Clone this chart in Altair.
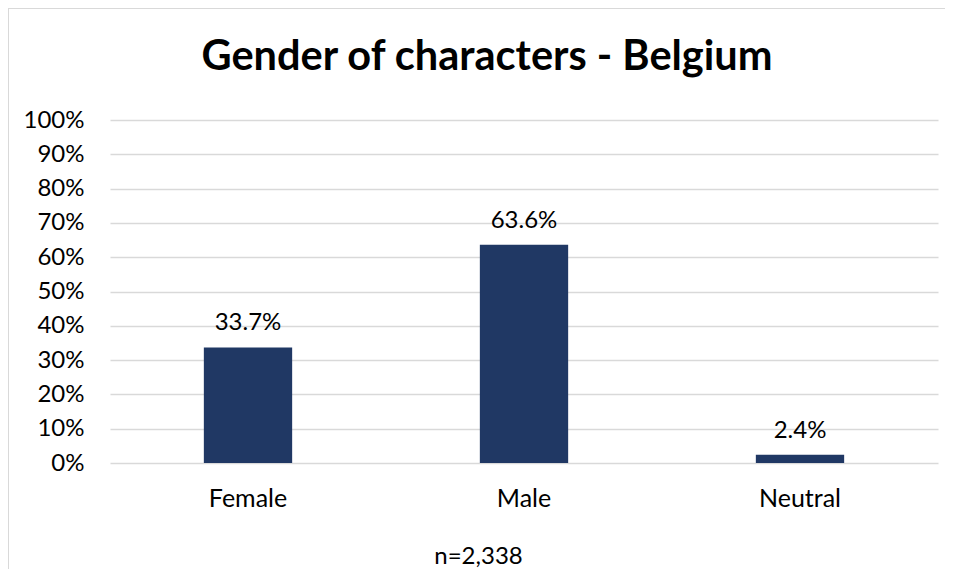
import altair as alt
import pandas as pd

categories = ["Female", "Male", "Neutral"]
shares = [0.337, 0.636, 0.024]
value_labels = ["33.7%", "63.6%", "2.4%"]
y_ticks = [0, 0.1, 0.2, 0.3, 0.4, 0.5, 0.6, 0.7, 0.8, 0.9, 1.0]
title_text = "Gender of characters - Belgium"
note_text = "n=2,338"

FONT = "Lato"
BAR = "#203864"
GRID = "#d9d9d9"
FS = 24

df = pd.DataFrame({"cat": categories, "share": shares, "lab": value_labels})

x_enc = alt.X(
    "cat:N",
    sort=categories,
    scale=alt.Scale(paddingInner=0.68, paddingOuter=0.34),
    axis=alt.Axis(
        title=note_text,
        labelFontSize=25,
        labelFont=FONT,
        labelColor="#000000",
        labelAngle=0,
        labelBaseline="alphabetic",
        labelPadding=43,
        ticks=False,
        domain=False,
        grid=False,
        titleFont=FONT,
        titleFontSize=FS,
        titleFontWeight="normal",
        titleColor="#000000",
        titleBaseline="alphabetic",
        titleX=368,
        titleY=100,
        titleAnchor="middle",
    ),
)
y_enc = alt.Y(
    "share:Q",
    scale=alt.Scale(domain=[0, 1], nice=False),
    axis=alt.Axis(
        title=None,
        format=".0%",
        values=y_ticks,
        tickCount=20,
        labelOverlap=False,
        labelFontSize=FS,
        labelFont=FONT,
        labelColor="#000000",
        labelPadding=26,
        ticks=False,
        domain=False,
        gridColor=GRID,
        gridWidth=1.5,
    ),
)

base = alt.Chart(df)
bars = base.mark_bar(color=BAR).encode(x=x_enc, y=y_enc)
texts = base.mark_text(
    baseline="alphabetic", dy=-17, fontSize=FS, font=FONT, color="#000000"
).encode(x=x_enc, y=y_enc, text="lab:N")

title_df = pd.DataFrame({"t": [title_text]})
title = alt.Chart(title_df).mark_text(
    fontSize=41.5, fontWeight="bold", font=FONT, color="#000000", baseline="alphabetic", align="center"
).encode(text="t:N", x=alt.value(377), y=alt.value(-50))

border_df = pd.DataFrame({"k": [0]})
top_line = alt.Chart(border_df).mark_rule(color=GRID, strokeWidth=2).encode(
    x=alt.value(-102), x2=alt.value(840), y=alt.value(-112)
)
left_line = alt.Chart(border_df).mark_rule(color=GRID, strokeWidth=2).encode(
    x=alt.value(-102), y=alt.value(-112), y2=alt.value(460)
)

chart = alt.layer(bars, texts, title, top_line, left_line).properties(
    width=828,
    height=343,
    autosize=alt.AutoSizeParams(type="none"),
    padding={"left": 102, "top": 112, "right": 7, "bottom": 106},
).configure_view(stroke=None)

chart.save("out.html", embed_options={"renderer": "svg", "actions": False})
